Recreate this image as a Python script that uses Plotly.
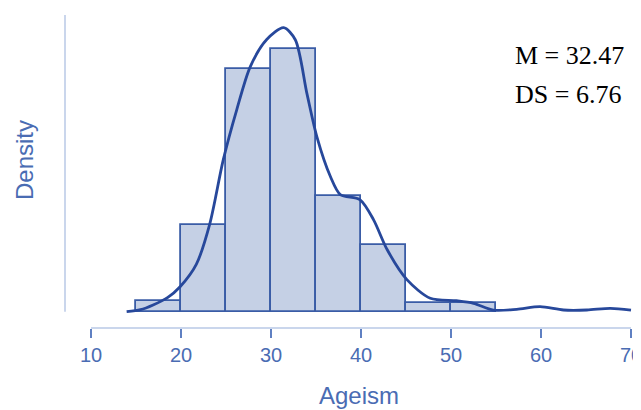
import plotly.graph_objects as go

# Histogram (density scale), bin width 5
bin_starts = [15, 20, 25, 30, 35, 40, 45, 50]
bin_width = 5
densities = [0.00274, 0.0216, 0.0605, 0.0655, 0.0288, 0.0166, 0.0021, 0.0021]

# Kernel density estimate
kde_x = [13.96, 15.5, 16.9, 18.5, 19.9, 21.7, 23.2, 24.7, 26.2, 27.7, 29.5, 31.4,
         32.7, 34.0, 35.1, 36.6, 37.7, 39.9, 41.4, 42.9, 45.1, 47.7, 50.6, 52.5,
         54.7, 57.3, 59.9, 62.5, 65.1, 67.7, 70.0]
kde_y = [0.0, 0.0005, 0.00167, 0.0035, 0.00623, 0.0118, 0.0219, 0.0379, 0.0504,
         0.0611, 0.0678, 0.0708, 0.0678, 0.0543, 0.0436, 0.0337, 0.0292, 0.0279,
         0.0229, 0.0155, 0.0080, 0.00334, 0.00274, 0.0021, 0.00042, 0.0006,
         0.00125, 0.00042, 0.00042, 0.00085, 0.00042]

x_ticks = [10, 20, 30, 40, 50, 60, 70]
x_title = "Ageism"
y_title = "Density"
stats_lines = ["M = 32.47", "DS = 6.76"]

BLUE_TXT = "#4a6cb3"
AXIS_LINE = "#b9c8e6"
BAR_FILL = "#c5d0e5"
BAR_LINE = "#3a5ca6"
CURVE = "#27489b"

centers = [s + bin_width / 2 for s in bin_starts]

fig = go.Figure()
fig.add_trace(go.Bar(
    x=centers, y=densities, width=[bin_width] * len(centers),
    marker=dict(color=BAR_FILL, line=dict(color=BAR_LINE, width=1.8)),
    hoverinfo="skip", showlegend=False,
))
fig.add_trace(go.Scatter(
    x=kde_x, y=kde_y, mode="lines",
    line=dict(color=CURVE, width=2.8, shape="spline", smoothing=0.8),
    hoverinfo="skip", showlegend=False,
))

k = 0.0002493  # density per pixel
y_bottom = -(328 - 311.7) * k
y_top = (311.7 - 10) * k
y_line_top = (311.7 - 15) * k

fig.update_layout(
    width=641, height=402,
    margin=dict(l=57, r=10, t=2, b=82),
    plot_bgcolor="white", paper_bgcolor="white",
    bargap=0,
    font=dict(family="Liberation Sans, Arial, sans-serif", color=BLUE_TXT),
    xaxis=dict(
        range=[10 - 26 / 9, 10 - 26 / 9 + 574 / 9],
        tickvals=x_ticks, ticktext=[str(v) for v in x_ticks],
        ticks="outside", ticklen=9, tickwidth=2, tickcolor="#5f80c2",
        showline=False, showgrid=False, zeroline=False,
        ticklabeloverflow="allow",
        tickfont=dict(size=20, color=BLUE_TXT),
    ),
    yaxis=dict(
        range=[y_bottom, y_top],
        showticklabels=False, ticks="", showline=False,
        showgrid=False, zeroline=False,
    ),
    shapes=[
        dict(type="line", xref="x", yref="paper", x0=10, x1=70, y0=0, y1=0,
             line=dict(color=AXIS_LINE, width=1.5)),
        dict(type="line", xref="paper", yref="y", x0=0, x1=0, y0=0, y1=y_line_top,
             line=dict(color=AXIS_LINE, width=1.5)),
    ],
    annotations=[
        dict(text=x_title, xref="x", yref="paper", x=39.78, y=(328 - 395) / 318,
             xanchor="center", yanchor="middle", showarrow=False,
             font=dict(size=24, color=BLUE_TXT)),
        dict(text=y_title, xref="paper", yref="paper", x=(24 - 65) / 574,
             y=(328 - 160) / 318, xanchor="center", yanchor="middle",
             textangle=-90, showarrow=False, font=dict(size=24, color=BLUE_TXT)),
        dict(text=stats_lines[0], xref="paper", yref="paper", x=(513 - 65) / 574,
             y=(328 - 56) / 318, xanchor="left", yanchor="middle", showarrow=False,
             font=dict(family="Liberation Serif, Times New Roman, serif", size=26,
                       color="black")),
        dict(text=stats_lines[1], xref="paper", yref="paper", x=(513 - 65) / 574,
             y=(328 - 94) / 318, xanchor="left", yanchor="middle", showarrow=False,
             font=dict(family="Liberation Serif, Times New Roman, serif", size=26,
                       color="black")),
    ],
)

fig.write_html("out.html")
